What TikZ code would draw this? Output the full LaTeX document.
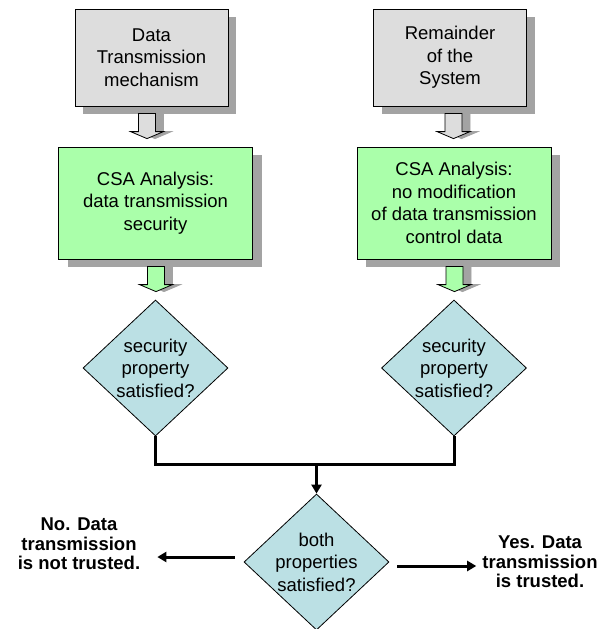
\documentclass[tikz,border=0pt]{standalone}
\usepackage{fontspec}
\setmainfont{Liberation Sans}
\usepackage{xcolor}
\definecolor{boxgray}{HTML}{DDDDDD}
\definecolor{csagreen}{HTML}{AAFFAA}
\definecolor{decblue}{HTML}{BBE0E4}
\definecolor{shadowgray}{HTML}{A3A3A3}
\usepackage{tikz}
\usetikzlibrary{shapes.geometric,arrows.meta,calc,shadows}

\newcommand{\blockarrow}[4]{%
  \foreach \s/\f/\d in {1/shadowgray/shadowgray,0/#3/black}
    \filldraw[fill=\f,draw=\d,line width=0.8pt,xshift={8pt*\s},yshift={-7pt*\s}]
      let \p1=(#1.south), \p2=(#2.north) in
      ({#4pt-8.5pt},{\y1-7pt}) -- ({#4pt+8.5pt},{\y1-7pt}) -- ({#4pt+8.5pt},{\y2+15pt})
      -- ({#4pt+16.5pt},{\y2+15pt}) -- ({#4pt},{\y2+8pt}) -- ({#4pt-16.5pt},{\y2+15pt})
      -- ({#4pt-8.5pt},{\y2+15pt}) -- cycle;
}

\begin{document}
\begin{tikzpicture}[x=1pt,y=-1pt,
  every node/.style={font=\fontsize{18.5}{22.5}\selectfont},
  srcbox/.style={draw,line width=0.8pt,fill=boxgray,minimum width=153pt,minimum height=97pt,
    align=center,drop shadow={shadow xshift=8pt,shadow yshift=-8pt,fill=shadowgray,opacity=1}},
  csabox/.style={draw,line width=0.8pt,fill=csagreen,minimum width=194pt,minimum height=112pt,
    align=center,drop shadow={shadow xshift=9pt,shadow yshift=-8pt,fill=shadowgray,opacity=1}},
  decision/.style={diamond,draw,line width=0.8pt,fill=decblue,minimum width=145pt,
    minimum height=136pt,inner sep=-14pt,align=center},
  outcome/.style={align=center,inner sep=0pt,font=\fontsize{18.5}{19.5}\selectfont\bfseries},
  flow/.style={line width=3pt,-{Triangle[length=9pt,width=10pt]}}]
  \useasboundingbox (0,0) rectangle (603,629);

  \node[srcbox] (datamech) at (151.5,57.5) {Data\\Transmission\\mechanism};
  \node[srcbox] (remainder) at (450,57.5) {Remainder\\of the\\System};
  \node[csabox] (csasec) at (155.5,203) {CSA Analysis:\\data transmission\\security};
  \node[csabox] (csactl) at (454,203) {CSA Analysis:\\no modification\\of data transmission\\control data};
  \node[decision] (secleft) at (155.5,368) {security\\property\\satisfied?};
  \node[decision] (secright) at (454,368) {security\\property\\satisfied?};
  \node[decision] (both) at (316.5,562) {both\\properties\\satisfied?};
  \node[outcome] (notrust) at (79,544) {No. Data\\transmission\\is not trusted.};
  \node[outcome] (trust) at (540,562) {Yes. Data\\transmission\\is trusted.};
  \coordinate (merge) at (316.5,464);

  \blockarrow{datamech}{csasec}{boxgray}{147}
  \blockarrow{remainder}{csactl}{boxgray}{453.5}
  \blockarrow{csasec}{secleft}{csagreen}{156}
  \blockarrow{csactl}{secright}{csagreen}{454.5}

  \draw[line width=3pt] (secleft.south) |- (merge) -| (secright.south);
  \draw[flow] (merge) -- (both.north);
  \draw[flow] ([shift={(-9pt,5pt)}]both.west) coordinate (nostart)
    -- ($(notrust.east |- nostart)+(17pt,0)$);
  \draw[flow] ([shift={(8pt,-4pt)}]both.east) coordinate (yesstart)
    -- ($(trust.west |- yesstart)+(-6pt,0)$);
\end{tikzpicture}
\end{document}
